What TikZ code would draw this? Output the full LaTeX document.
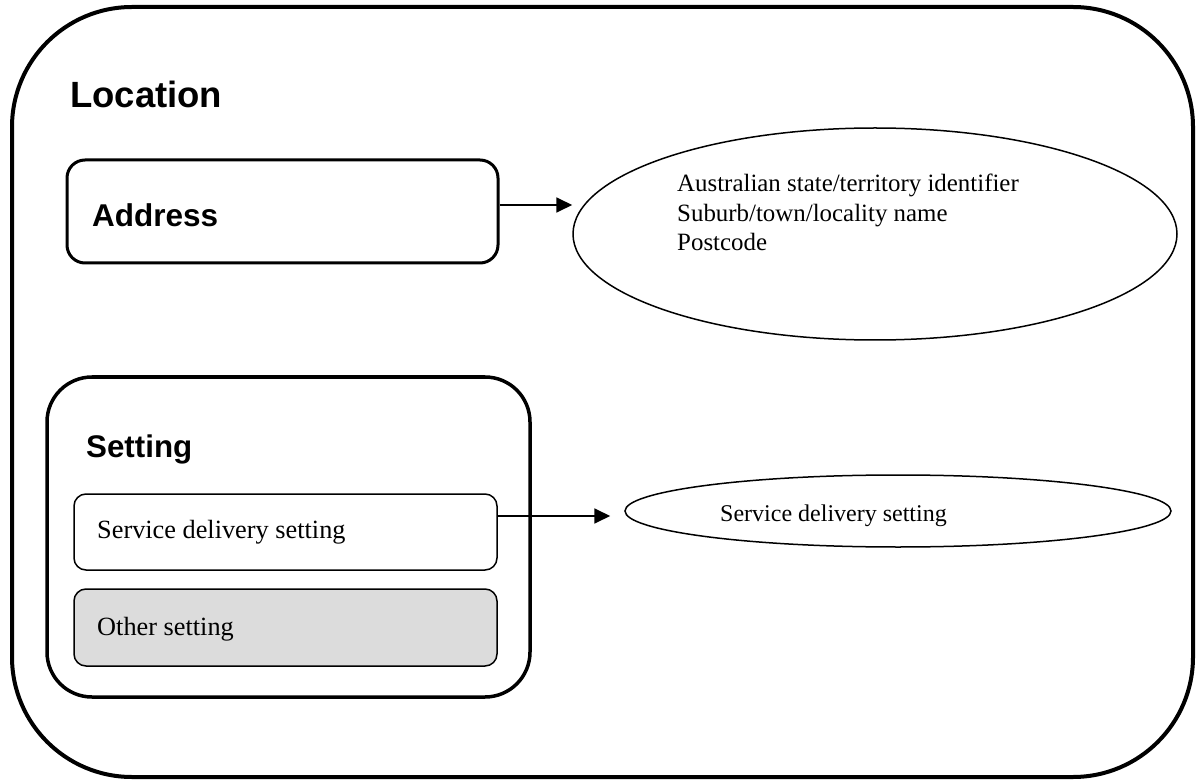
\documentclass[tikz,border=0pt]{standalone}
\usepackage{fontspec}
\setmainfont{Liberation Serif}
\newfontfamily\headfont{Liberation Sans}
\usetikzlibrary{shapes.geometric,arrows.meta,calc}
\definecolor{boxgray}{RGB}{220,220,220}
\begin{document}
\begin{tikzpicture}[x=1pt,y=-1pt,
  rbox/.style={draw, rectangle, inner sep=0pt},
  oval/.style={draw, ellipse, inner sep=0pt, line width=1.5pt},
  head/.style={inner sep=0pt, anchor=base west, font=\headfont\bfseries\fontsize{#1}{#1}\selectfont},
  body/.style={inner sep=0pt, anchor=base west, font=\fontsize{#1}{#1}\selectfont},
  arr/.style={line width=1.8pt, -{Triangle[length=16pt,width=15pt]}}]
\useasboundingbox (0,0) rectangle (1199,783);
% outer Location box
\node[rbox, line width=4pt, rounded corners=120pt, minimum width=1181pt, minimum height=770pt] (loc) at (602.5,392) {};
\node[head=36.5] (loct) at (70,108) {Location};
% Address
\node[rbox, line width=3pt, rounded corners=18pt, minimum width=431pt, minimum height=103pt] (addr) at (282.5,211.5) {};
\node[head=31.5] (addrt) at (92,227) {Address};
% Setting
\node[rbox, line width=3.5pt, rounded corners=45pt, minimum width=483pt, minimum height=320pt] (set) at (288.5,537) {};
\node[head=31.3] (sett) at (86,457) {Setting};
\node[rbox, line width=1.5pt, rounded corners=12pt, minimum width=423pt, minimum height=76pt] (sds) at (285.5,532) {};
\node[body=26.3] (sdst) at (97,538) {Service delivery setting};
\node[rbox, line width=1.5pt, rounded corners=12pt, fill=boxgray, minimum width=423pt, minimum height=77pt] (oth) at (285.5,627.5) {};
\node[body=26.3] (otht) at (97,635) {Other setting};
% ellipses
\node[oval, minimum width=604pt, minimum height=212pt] (ell1) at (875,234) {};
\node[inner sep=0pt, anchor=north west, align=left, font=\fontsize{24.9}{29.5}\selectfont] (ell1t) at (677,174)
  {Australian state/territory identifier\\Suburb/town/locality name\\Postcode};
\node[oval, minimum width=546pt, minimum height=72pt] (ell2) at (898,511) {};
\node[body=24] (ell2t) at (720,521) {Service delivery setting};
% connectors
\coordinate (a1) at ($(addr.east)+(0,-6.5)$);
\draw[arr] (a1) -- (a1 -| ell1.west);
\coordinate (a2) at ($(sds.east)+(0,-16)$);
\draw[arr, shorten >=14pt] (a2) -- (a2 -| ell2.west);
\end{tikzpicture}
\end{document}
